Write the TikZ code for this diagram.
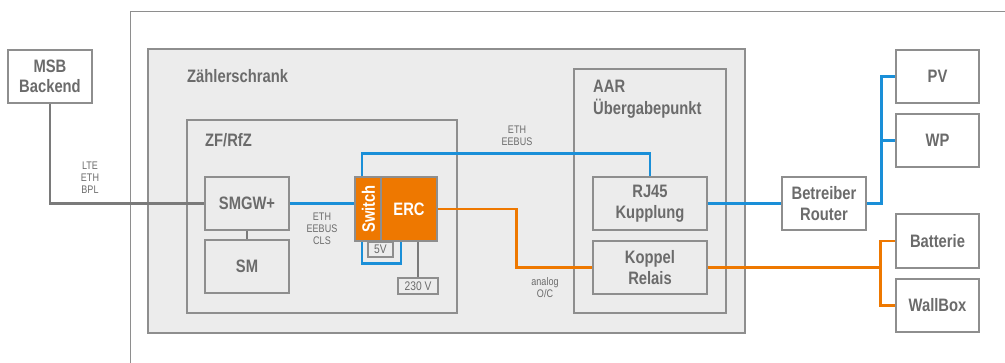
\documentclass[tikz,border=0pt]{standalone}
\usepackage{fontspec}
\setmainfont{Liberation Sans}[FakeStretch=0.82]
\usetikzlibrary{calc}
\definecolor{txtgray}{HTML}{6B6B6B}
\definecolor{boxgray}{HTML}{8E8E8E}
\definecolor{panel}{HTML}{ECECEC}
\definecolor{netblue}{HTML}{1A8FD8}
\definecolor{ercorange}{HTML}{EE7800}
\definecolor{wiregray}{HTML}{7A7A7A}
\begin{document}
\begin{tikzpicture}[x=1pt,y=-1pt,
  every node/.style={inner sep=0pt, text=txtgray},
  box/.style={draw=boxgray, line width=1.5pt, fill=white, align=center,
    font=\bfseries\fontsize{18}{20.5}\selectfont},
  inbox/.style={box, fill=panel},
  area/.style={draw=boxgray, line width=1.5pt, fill=panel},
  title/.style={font=\bfseries\fontsize{18}{21.5}\selectfont, align=left},
  small/.style={font=\fontsize{11}{12}\selectfont, align=center},
  tiny/.style={draw=boxgray, line width=1.2pt, fill=panel,
    font=\fontsize{12.5}{13}\selectfont},
  orangebox/.style={draw=boxgray, line width=1.5pt, fill=ercorange, text=white,
    font=\bfseries\fontsize{18}{20}\selectfont},
  blueline/.style={draw=netblue, line width=2.6pt},
  orangeline/.style={draw=ercorange, line width=2.6pt},
  grayline/.style={draw=wiregray, line width=2.6pt},
]
\useasboundingbox (0,0) rectangle (1005,363);

% outer site boundary (open towards right and bottom)
\draw[boxgray, line width=1pt] (1010,12) -- (130,12) -- (130,370);

% meter cabinet and its compartments
\draw[area] (148,49) rectangle (745,333);
\node[title, anchor=base west] (zs) at (187,83) {Zählerschrank};
\draw[area] (187,120) rectangle (457,313);
\node[title, anchor=base west] (zf) at (205,147) {ZF/RfZ};
\draw[area] (574,69) rectangle (726,313);
\node[title, anchor=north west] (aar) at (593,80) {AAR\\Übergabepunkt};

% devices
\node[box, minimum width=84pt, minimum height=53pt] (msb) at (50,76.5) {MSB\\Backend};
\node[inbox, minimum width=84pt, minimum height=53pt] (smgw) at (247,203.5) {SMGW+};
\node[inbox, minimum width=84pt, minimum height=53pt] (sm) at (247,266.5) {SM};
\node[orangebox, minimum width=26pt, minimum height=64pt] (switch) at (368,209) {};
\node[text=white, rotate=90, font=\bfseries\fontsize{18}{20}\selectfont] (switchlbl) at (368.5,209) {Switch};
\node[orangebox, minimum width=56pt, minimum height=64pt] (erc) at (409,209) {ERC};
\node[tiny, minimum width=25pt, minimum height=15pt] (v5) at (380.5,249.5) {5V};
\node[tiny, minimum width=40pt, minimum height=16pt] (v230) at (418,286) {230 V};
\node[inbox, minimum width=114pt, minimum height=53pt] (rj45) at (650,203.5) {RJ45\\Kupplung};
\node[inbox, minimum width=114pt, minimum height=53pt] (koppel) at (650,267.5) {Koppel\\Relais};
\node[box, minimum width=84pt, minimum height=53pt] (router) at (824,203.5) {Betreiber\\Router};
\node[box, minimum width=83pt, minimum height=53pt] (pv) at (937.5,76.5) {PV};
\node[box, minimum width=83pt, minimum height=53pt] (wp) at (937.5,140.5) {WP};
\node[box, minimum width=83pt, minimum height=54pt] (batt) at (937.5,241) {Batterie};
\node[box, minimum width=83pt, minimum height=53pt] (wall) at (937.5,305.5) {WallBox};

% link labels
\node[small] (lte) at (90,178) {LTE\\ETH\\BPL};
\node[small] (eth1) at (322,229) {ETH\\EEBUS\\CLS};
\node[small] (eth2) at (517,136) {ETH\\EEBUS};
\node[small] (analog) at (545,288) {analog\\O/C};

% connections
\draw[grayline] (msb.south) |- (smgw.west);
\draw[grayline] (smgw.south) -- (sm.north);
\draw[blueline] (smgw.east) -- (smgw.east -| switch.west);
\draw[blueline] ([xshift=-6pt]switch.north) -- ++(0,-23) -| (rj45.north);
\draw[blueline] ([xshift=-6pt]switch.south) -- ++(0,22) -| ([xshift=-8pt]erc.south);
\draw[grayline] (v230.north |- erc.south) -- (v230.north);
\draw[orangeline] (erc.east) -- ++(79,0) |- (koppel.west);
\draw[blueline] (rj45.east) -- (router.west);
\coordinate (bj) at ($(router.east)+(15,0)$);
\draw[blueline] (router.east) -- (bj) |- (pv.west);
\draw[blueline] (bj |- wp.west) -- (wp.west);
\coordinate (oj) at ($(koppel.east)+(173,0)$);
\draw[orangeline] (koppel.east) -- (oj) |- (batt.west);
\draw[orangeline] (oj) |- (wall.west);

% switch outline drawn again over the line ends
\node[orangebox, minimum width=26pt, minimum height=64pt, fill=none] (switchrim) at (switch) {};
\end{tikzpicture}
\end{document}
